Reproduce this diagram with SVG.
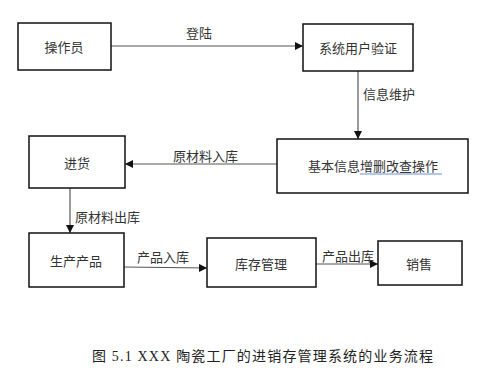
<svg xmlns="http://www.w3.org/2000/svg" width="499" height="375" viewBox="0 0 499 375">
<style>
.box{fill:#fff;stroke:#111;stroke-width:1.5}
.t{font-family:"Liberation Serif","Noto Sans CJK SC",serif;font-size:13px;fill:#333;text-anchor:middle;dominant-baseline:central}
.l{font-family:"Liberation Serif","Noto Sans CJK SC",serif;font-size:13px;fill:#333;dominant-baseline:central}
.c{stroke:#555;stroke-width:1.2;fill:none;marker-end:url(#a)}
</style>
<defs>
<marker id="a" viewBox="0 0 10 10" refX="10" refY="5" markerWidth="8" markerHeight="8" markerUnits="userSpaceOnUse" orient="auto">
<path d="M0,0 L10,5 L0,10 z" fill="#111"/>
</marker>
</defs>
<rect width="499" height="375" fill="#fff"/>
<g id="connectors">
<line class="c" x1="111" y1="46" x2="303" y2="46"/>
<line class="c" x1="358" y1="71" x2="358" y2="139"/>
<line class="c" x1="277" y1="164" x2="125" y2="164"/>
<line class="c" x1="70" y1="188" x2="70" y2="233"/>
<line class="c" x1="124" y1="267" x2="207" y2="268"/>
<line class="c" x1="316" y1="264" x2="378" y2="264"/>
<text class="l" x="186" y="33">登陆</text>
<text class="l" x="363" y="94">信息维护</text>
<text class="l" x="173" y="156">原材料入库</text>
<text class="l" x="75" y="217">原材料出库</text>
<text class="l" x="137" y="257">产品入库</text>
<text class="l" x="322" y="256">产品出库</text>
</g>
<g id="n1"><rect class="box" x="18" y="23" width="93" height="47"/><text class="t" x="64" y="47">操作员</text></g>
<g id="n2"><rect class="box" x="303" y="24" width="110" height="47"/><text class="t" x="358" y="48">系统用户验证</text></g>
<g id="n3"><rect class="box" x="277" y="139" width="191" height="54"/><text class="t" x="373" y="166">基本信息增删改查操作</text><line x1="360" y1="174" x2="442" y2="174" stroke="#6a8fd8" stroke-width="1"/></g>
<g id="n4"><rect class="box" x="29" y="136" width="96" height="52"/><text class="t" x="77" y="163">进货</text></g>
<g id="n5"><rect class="box" x="29" y="233" width="95" height="54"/><text class="t" x="76" y="261">生产产品</text></g>
<g id="n6"><rect class="box" x="207" y="238" width="109" height="49"/><text class="t" x="261" y="264">库存管理</text></g>
<g id="n7"><rect class="box" x="378" y="241" width="84" height="44"/><text class="t" x="419" y="264">销售</text></g>
<text x="92" y="356" textLength="341" lengthAdjust="spacing" font-family="'Liberation Serif','Noto Sans CJK SC',serif" font-size="14" fill="#222" dominant-baseline="central">图 5.1 XXX 陶瓷工厂的进销存管理系统的业务流程</text>
</svg>
